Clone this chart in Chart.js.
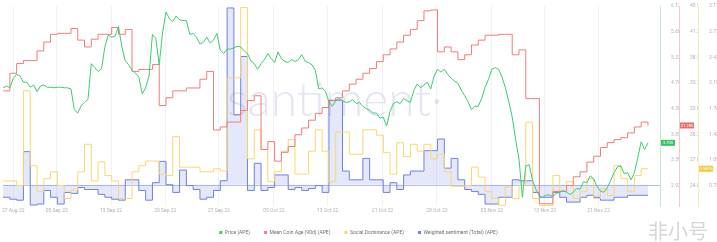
<!DOCTYPE html>
<html>
<head>
<meta charset="utf-8">
<script src="https://cdn.jsdelivr.net/npm/chart.js@4.4.0/dist/chart.umd.min.js"></script>
<style>
html, body { margin: 0; padding: 0; background: #fff; }
</style>
</head>
<body>
<canvas id="myChart" width="717" height="242"></canvas>
<script>
// APE on Santiment: price, mean coin age, social dominance, weighted sentiment
// x is in days from the left edge, price is sampled twice a day, the rest daily

var xTickDays = [1.5, 7.9, 15.9, 23.9, 31.8, 39.9, 47.8, 55.9, 63.9, 72.0, 79.8, 87.7]
var xTickLabels = ['27 Aug 22', '05 Sep 22', '13 Sep 22', '20 Sep 22', '27 Sep 22', '05 Oct 22',
	'13 Oct 22', '21 Oct 22', '28 Oct 22', '05 Nov 22', '13 Nov 22', '21 Nov 22']

var priceAPE = [
	4.68, 4.71, 4.68, 4.85, 4.92, 4.89, 4.78, 4.78, 4.69, 4.73,
	4.61, 4.71, 4.73, 4.69, 4.69, 4.68, 4.69, 4.69, 4.68, 4.68,
	4.66, 4.29, 4.23, 4.36, 4.42, 4.47, 5.11, 5.04, 4.97, 5.02,
	5.41, 5.62, 5.58, 5.60, 5.77, 5.41, 5.16, 5.09, 4.99, 4.94,
	4.87, 4.57, 4.68, 4.89, 5.63, 5.56, 5.09, 5.67, 6.03, 5.91,
	5.86, 5.96, 5.89, 5.88, 5.88, 5.63, 5.65, 5.58, 5.46, 5.49,
	5.58, 5.48, 5.53, 5.65, 5.35, 5.29, 5.37, 5.37, 5.39, 5.42,
	5.41, 5.34, 5.29, 5.16, 5.11, 5.01, 5.11, 5.18, 5.29, 5.20,
	5.13, 5.32, 5.20, 5.15, 5.13, 5.18, 5.15, 5.18, 5.27, 5.15,
	5.13, 5.09, 4.99, 4.66, 4.68, 4.61, 4.43, 4.35, 4.45, 4.49,
	4.45, 4.42, 4.43, 4.47, 4.40, 4.42, 4.35, 4.31, 4.28, 4.23,
	4.23, 4.14, 4.16, 4.00, 4.26, 4.40, 4.43, 4.40, 4.49, 4.45,
	4.42, 4.63, 4.75, 4.68, 4.73, 4.78, 4.66, 4.89, 5.01, 4.96,
	5.01, 4.92, 4.85, 4.80, 4.76, 4.64, 4.54, 4.43, 4.29, 4.35,
	4.35, 4.49, 4.69, 4.83, 5.01, 5.04, 5.01, 4.87, 4.68, 4.43,
	4.16, 3.76, 3.41, 2.73, 3.29, 3.31, 3.03, 2.87, 2.75, 2.73,
	2.77, 2.77, 2.75, 2.80, 2.82, 2.85, 2.82, 2.78, 2.82, 2.89,
	2.87, 3.01, 2.99, 3.11, 3.06, 2.92, 2.84, 2.82, 2.90, 3.03,
	3.17, 3.27, 3.29, 3.15, 3.17, 3.04, 3.17, 3.44, 3.72, 3.58,
	3.70
]

var meanCoinAge = [
	34.96, 36.83, 37.87, 38.18, 38.18, 39.21, 40.15, 40.98, 41.08, 41.08,
	41.60, 40.36, 39.63, 40.46, 40.98, 40.98, 41.71, 40.98, 41.50, 37.03,
	37.24, 37.24, 37.76, 33.40, 34.23, 34.96, 34.96, 35.27, 35.27, 36.20,
	37.03, 30.80, 31.12, 31.64, 31.64, 32.88, 33.92, 34.44, 28.73, 29.56,
	27.48, 28.42, 29.04, 30.29, 31.01, 31.84, 32.57, 33.19, 33.92, 34.23,
	34.96, 35.68, 36.20, 36.83, 37.34, 38.07, 38.80, 39.42, 40.15, 40.88,
	41.50, 42.43, 43.47, 43.57, 39.11, 39.63, 39.11, 38.28, 38.80, 39.84,
	40.36, 40.88, 40.88, 40.98, 40.98, 38.80, 39.32, 34.13, 34.13, 22.95,
	22.95, 24.26, 24.26, 24.89, 25.82, 26.34, 27.38, 28.00, 28.94, 29.45,
	29.77, 29.98, 30.49, 31.12, 31.64, 31.28
]

// percent
var socialDominance = [
	0.82, 0.82, 0.76, 2.00, 1.02, 0.68, 0.85, 0.94, 0.76, 0.59,
	0.70, 0.94, 1.30, 0.82, 1.07, 0.89, 0.82, 0.59, 0.59, 0.94,
	1.02, 1.08, 1.08, 0.91, 0.89, 1.40, 1.00, 1.00, 1.00, 0.94,
	0.94, 0.98, 0.95, 2.17, 2.17, 3.09, 1.11, 1.49, 1.23, 0.81,
	0.94, 1.21, 1.36, 0.91, 0.91, 1.21, 1.49, 1.21, 0.81, 1.46,
	1.46, 1.17, 1.17, 1.49, 1.49, 1.42, 1.19, 0.91, 1.32, 1.14,
	1.30, 1.21, 1.30, 1.11, 1.17, 0.94, 0.75, 0.75, 0.76, 1.00,
	0.87, 0.68, 0.59, 0.50, 0.75, 0.59, 0.76, 1.59, 0.59, 0.50,
	0.50, 0.89, 0.68, 0.81, 0.59, 0.68, 0.85, 0.59, 0.72, 0.63,
	1.02, 0.85, 0.68, 0.89, 0.98, 0.98
]

var weightedSentiment = [
	-0.65, -0.75, -0.80, 1.70, -1.05, -1.00, -0.30, -0.65, -1.00, -0.40,
	-0.45, -0.15, -0.25, -0.25, -0.50, -0.65, -0.75, -0.80, 0.25, 0.25,
	-0.30, -0.80, 0.10, 1.20, 0.00, -0.40, 0.75, -0.05, -0.25, -0.75,
	-0.65, -0.30, 0.20, 9.10, 3.60, 6.60, -0.30, 1.10, -0.30, -0.15,
	0.50, 0.50, -0.25, -0.15, -0.30, -0.20, -0.05, -0.40, 4.35, 4.35,
	0.70, 0.25, 0.25, 1.35, 0.25, 0.25, -0.40, 0.10, -0.25, 0.50,
	0.70, 0.70, 1.75, 1.75, 2.35, 0.85, 1.35, 0.25, -0.25, -0.35,
	-0.50, -1.00, -1.00, -0.65, -0.65, 0.25, 0.20, 0.20, -0.40, -0.65,
	-0.65, -0.40, -0.65, -0.90, -0.90, -0.65, -0.55, -0.65, -0.80, -0.80,
	-0.65, -0.65, -0.55, -0.55, -0.55, -0.55
]

var priceTicks = [6.137, 5.68, 5.223, 4.766, 4.309, 3.852, 3.395, 2.938]
var ageTicks = [43.99, 41.258, 38.528, 35.797, 33.067, 30.336, 27.605, 24.875]
var domTicks = [3.111, 2.775, 2.439, 2.103, 1.767, 1.431, 1.095, 0.759]

var greenColor = '#3fca72'
var redColor = '#f27b7b'
var yellowColor = '#f8d86e'
var blueColor = '#7080e3'
var tickColor = '#aeb2b8'

Chart.defaults.font.family = 'Roboto, "Open Sans", sans-serif'

function halfDays(arr) {
	return arr.map(function (v, i) { return { x: i / 2, y: v } })
}
function days(arr) {
	return arr.map(function (v, i) { return { x: i, y: v } })
}
function fixedTicks(values) {
	return function (scale) {
		scale.ticks = values.map(function (v) { return { value: v } })
	}
}
function rightAxis(min, max, values, color, fmt) {
	return {
		position: 'right',
		min: min,
		max: max,
		bounds: 'data',
		afterBuildTicks: fixedTicks(values),
		afterFit: function (scale) { scale.width = 19 },
		border: { color: color, width: 1 },
		grid: { display: false },
		ticks: {
			font: { size: 5 },
			color: tickColor,
			padding: 3,
			autoSkip: false,
			callback: fmt
		}
	}
}

var marks = {
	id: 'marks',
	beforeDatasetsDraw: function (chart) {
		var ctx = chart.ctx
		var area = chart.chartArea
		ctx.save()
		ctx.font = '300 48px Lato'
		ctx.fillStyle = 'rgba(182,186,218,0.38)'
		ctx.textAlign = 'left'
		ctx.textBaseline = 'alphabetic'
		ctx.fillText('santiment·', 227, 116)
		var y0 = Math.round(chart.scales.ySent.getPixelForValue(0)) + 0.5
		ctx.strokeStyle = 'rgba(112,128,227,0.5)'
		ctx.lineWidth = 1
		ctx.beginPath()
		ctx.moveTo(area.left, y0)
		ctx.lineTo(area.right, y0)
		ctx.stroke()
		ctx.restore()
	},
	afterDraw: function (chart) {
		var ctx = chart.ctx
		ctx.save()
		// last value badges on the three axes
		var badges = [
			{ scale: 'yPrice', data: priceAPE, color: '#35c468', text: function (v) { return v.toFixed(3) } },
			{ scale: 'yAge', data: meanCoinAge, color: '#ef6a6a', text: function (v) { return v.toFixed(3) } },
			{ scale: 'yDom', data: socialDominance, color: '#f5c73a', text: function (v) { return v.toFixed(3) + '%' } }
		]
		ctx.font = '4px Roboto'
		ctx.textAlign = 'center'
		ctx.textBaseline = 'middle'
		badges.forEach(function (b) {
			var s = chart.scales[b.scale]
			var v = b.data[b.data.length - 1]
			var y = s.getPixelForValue(v)
			ctx.fillStyle = b.color
			ctx.fillRect(s.left + 1, y - 3, 14, 6)
			ctx.fillStyle = '#fff'
			ctx.fillText(b.text(v), s.left + 8, y + 0.3)
		})
		// site mark, bottom right
		ctx.fillStyle = 'rgba(200,200,200,0.75)'
		ctx.font = '20px "Noto Sans CJK SC"'
		ctx.textAlign = 'left'
		ctx.textBaseline = 'alphabetic'
		ctx.fillText('非小号', 648, 239)
		ctx.restore()
	}
}

var ctx = document.getElementById('myChart')
var chart = new Chart(ctx, {
	type: 'line',
	data: {
		datasets: [{
			label: 'Price (APE)',
			data: halfDays(priceAPE),
			borderColor: greenColor,
			backgroundColor: greenColor,
			borderWidth: 1,
			pointRadius: 0,
			fill: false,
			yAxisID: 'yPrice'
		}, {
			label: 'Mean Coin Age (90d) (APE)',
			data: days(meanCoinAge),
			borderColor: redColor,
			backgroundColor: redColor,
			borderWidth: 1,
			pointRadius: 0,
			stepped: 'before',
			fill: false,
			yAxisID: 'yAge'
		}, {
			label: 'Social Dominance (APE)',
			data: days(socialDominance),
			borderColor: yellowColor,
			backgroundColor: yellowColor,
			borderWidth: 1,
			pointRadius: 0,
			stepped: 'before',
			fill: false,
			yAxisID: 'yDom'
		}, {
			label: 'Weighted sentiment (Total) (APE)',
			data: days(weightedSentiment),
			borderColor: blueColor,
			backgroundColor: 'rgba(112,128,227,0.18)',
			borderWidth: 1,
			pointRadius: 0,
			stepped: 'before',
			fill: 'origin',
			yAxisID: 'ySent'
		}]
	},
	options: {
		responsive: false,
		animation: false,
		devicePixelRatio: 1,
		layout: { padding: { top: 3, bottom: -3, left: 0, right: 0 } },
		plugins: {
			tooltip: { enabled: false },
			legend: {
				position: 'bottom',
				labels: {
					boxWidth: 3,
					boxHeight: 3,
					padding: 14,
					color: '#6b6f75',
					font: { size: 5 },
					generateLabels: function (chart) {
						var items = Chart.defaults.plugins.legend.labels.generateLabels(chart)
						items.forEach(function (it) {
							it.fillStyle = it.strokeStyle
							it.lineWidth = 0
						})
						return items
					}
				}
			}
		},
		scales: {
			x: {
				type: 'linear',
				min: 0,
				max: 96.77,
				bounds: 'data',
				afterBuildTicks: fixedTicks(xTickDays),
				grid: { color: '#f1f2f4', drawTicks: false },
				border: { display: false },
				ticks: {
					font: { size: 5 },
					color: tickColor,
					padding: 2,
					maxRotation: 0,
					autoSkip: false,
					callback: function (v, i) { return xTickLabels[i] }
				}
			},
			yPrice: rightAxis(2.575, 6.137, priceTicks, '#c3ead2', function (v) { return String(v) }),
			yAge: rightAxis(22.71, 43.99, ageTicks, '#f6c9c9', function (v) { return String(v) }),
			yDom: rightAxis(0.4919, 3.111, domTicks, '#f7ebb5', function (v) { return v + '%' }),
			ySent: { display: false, min: -1.1, max: 9.2 }
		}
	},
	plugins: [marks]
})
</script>
</body>
</html>
